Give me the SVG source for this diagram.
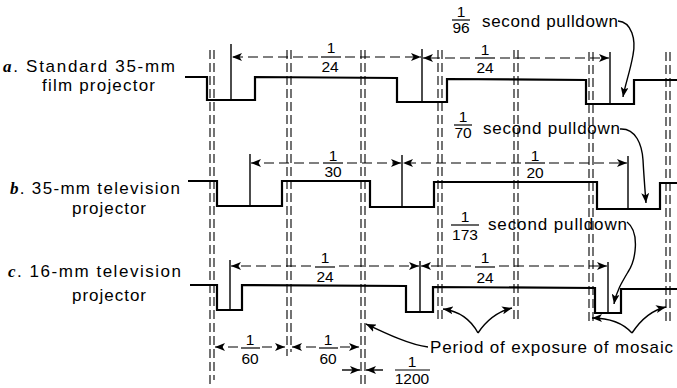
<svg xmlns="http://www.w3.org/2000/svg" width="677" height="388" viewBox="0 0 677 388">
<defs>
<style>
.bg{fill:#fff}
.wave{fill:none;stroke:#000;stroke-width:2.2;stroke-linejoin:miter}
.tick{stroke:#000;stroke-width:1.4}
.guide{stroke:#000;stroke-width:1.1;stroke-dasharray:9 4}
.dim{fill:none;stroke:#000;stroke-width:1.2;stroke-dasharray:10 5}
.solid{fill:none;stroke:#000;stroke-width:1.4}
.bar{stroke:#000;stroke-width:1.2}
.lbl{font-family:"Liberation Sans","DejaVu Sans",sans-serif;font-size:17px;fill:#000}
.num{font-family:"Liberation Sans","DejaVu Sans",sans-serif;font-size:15.5px;fill:#000;text-anchor:middle}
.it{font-family:"Liberation Serif",serif;font-style:italic;font-weight:bold}
</style>
<marker id="ah" viewBox="0 0 10 8" refX="10" refY="4" markerWidth="10" markerHeight="8" markerUnits="userSpaceOnUse" orient="auto">
<path d="M0,0 L10,4 L0,8 L2.5,4 z" fill="#000"/>
</marker>
</defs>
<rect class="bg" x="0" y="0" width="677" height="388"/>

<g id="guides">
<line class="guide" x1="210" y1="50" x2="210" y2="385"/>
<line class="guide" x1="214" y1="50" x2="214" y2="380"/>
<line class="guide" x1="287" y1="50" x2="287" y2="356"/>
<line class="guide" x1="291" y1="50" x2="291" y2="352"/>
<line class="guide" x1="361" y1="50" x2="361" y2="385"/>
<line class="guide" x1="365" y1="50" x2="365" y2="388"/>
<line class="guide" x1="438" y1="50" x2="438" y2="322"/>
<line class="guide" x1="442" y1="50" x2="442" y2="322"/>
<line class="guide" x1="514" y1="50" x2="514" y2="322"/>
<line class="guide" x1="518" y1="50" x2="518" y2="322"/>
<line class="guide" x1="589" y1="52" x2="589" y2="322"/>
<line class="guide" x1="593" y1="52" x2="593" y2="322"/>
<line class="guide" x1="666" y1="52" x2="666" y2="322"/>
<line class="guide" x1="670" y1="52" x2="670" y2="322"/>
</g>

<g id="row-a">
<text class="lbl" x="3" y="72" textLength="172" lengthAdjust="spacing"><tspan class="it">a</tspan>. Standard 35-mm</text>
<text class="lbl" x="42" y="91" textLength="113" lengthAdjust="spacing">film projector</text>
<path class="wave" d="M185,77 L207,77 L207,100 L255,100 L255,77 L397,78 L397,102 L447,102 L447,79 L586,80 L586,104 L634,104 L634,80 L677,80"/>
<line class="tick" x1="231" y1="44" x2="231" y2="100"/>
<line class="tick" x1="422" y1="49" x2="422" y2="102"/>
<line class="tick" x1="610" y1="52" x2="610" y2="104"/>
<text class="num" x="331" y="53">1</text>
<line class="bar" x1="321" y1="57" x2="341" y2="57"/>
<text class="num" x="330" y="72">24</text>
<text class="num" x="485" y="55">1</text>
<line class="bar" x1="475" y1="58" x2="495" y2="58"/>
<text class="num" x="485" y="73">24</text>
</g>

<g id="row-b">
<text class="lbl" x="10" y="194" textLength="170" lengthAdjust="spacing"><tspan class="it">b</tspan>. 35-mm television</text>
<text class="lbl" x="72" y="214" textLength="74" lengthAdjust="spacing">projector</text>
<path class="wave" d="M188,181 L217,181 L217,206 L282,206 L282,181 L370,181 L370,207 L434,207 L434,182 L597,182 L597,209 L660,209 L660,183 L677,183"/>
<line class="tick" x1="250" y1="154" x2="250" y2="206"/>
<line class="tick" x1="402" y1="155" x2="402" y2="207"/>
<line class="tick" x1="628" y1="156" x2="628" y2="209"/>
<text class="num" x="333" y="161">1</text>
<line class="bar" x1="323" y1="163" x2="343" y2="163"/>
<text class="num" x="333" y="177">30</text>
<text class="num" x="535" y="161">1</text>
<line class="bar" x1="525" y1="163" x2="545" y2="163"/>
<text class="num" x="535" y="178">20</text>
</g>

<g id="row-c">
<text class="lbl" x="8" y="277" textLength="173" lengthAdjust="spacing"><tspan class="it" font-weight="normal">c</tspan>. 16-mm television</text>
<text class="lbl" x="72" y="301" textLength="74" lengthAdjust="spacing">projector</text>
<path class="wave" d="M190,285 L217,285 L217,310 L242,310 L242,285 L406,286 L406,312 L433,312 L433,287 L595,288 L595,313 L621,313 L621,289 L677,289"/>
<line class="tick" x1="230" y1="260" x2="230" y2="310"/>
<line class="tick" x1="420" y1="261" x2="420" y2="312"/>
<line class="tick" x1="608" y1="262" x2="608" y2="313"/>
<text class="num" x="325" y="263">1</text>
<line class="bar" x1="315" y1="267" x2="335" y2="267"/>
<text class="num" x="325" y="282">24</text>
<text class="num" x="485" y="263">1</text>
<line class="bar" x1="475" y1="267" x2="495" y2="267"/>
<text class="num" x="485" y="283">24</text>
</g>

<g id="connectors">
<line class="dim" x1="318" y1="57" x2="232" y2="57" marker-end="url(#ah)"/>
<line class="dim" x1="345" y1="57" x2="421" y2="57" marker-end="url(#ah)"/>
<line class="dim" x1="470" y1="58" x2="423" y2="58" marker-end="url(#ah)"/>
<line class="dim" x1="500" y1="58" x2="609" y2="58" marker-end="url(#ah)"/>
<line class="dim" x1="319" y1="163" x2="251" y2="163" marker-end="url(#ah)"/>
<line class="dim" x1="347" y1="163" x2="401" y2="163" marker-end="url(#ah)"/>
<line class="dim" x1="521" y1="163" x2="403" y2="163" marker-end="url(#ah)"/>
<line class="dim" x1="549" y1="163" x2="627" y2="163" marker-end="url(#ah)"/>
<line class="dim" x1="311" y1="266" x2="231" y2="266" marker-end="url(#ah)"/>
<line class="dim" x1="339" y1="266" x2="419" y2="266" marker-end="url(#ah)"/>
<line class="dim" x1="471" y1="266" x2="421" y2="266" marker-end="url(#ah)"/>
<line class="dim" x1="499" y1="266" x2="607" y2="266" marker-end="url(#ah)"/>
<line class="dim" x1="238" y1="347" x2="215" y2="347" marker-end="url(#ah)"/>
<line class="dim" x1="262" y1="347" x2="285" y2="347" marker-end="url(#ah)"/>
<line class="dim" x1="316" y1="347" x2="292" y2="347" marker-end="url(#ah)"/>
<line class="dim" x1="340" y1="347" x2="359" y2="347" marker-end="url(#ah)"/>
<line class="solid" x1="342" y1="370" x2="360" y2="370" marker-end="url(#ah)"/>
<line class="solid" x1="383" y1="370" x2="366" y2="370" marker-end="url(#ah)"/>
<path class="solid" d="M618,21 C632,22 636,40 633,55 C630,72 625,85 623,97" marker-end="url(#ah)"/>
<path class="solid" d="M620,129 C636,128 642,145 643,160 C644,178 645,190 646,203" marker-end="url(#ah)"/>
<path class="solid" d="M627,222 C640,232 636,260 628,272 C622,282 616,292 614,304" marker-end="url(#ah)"/>
<path class="solid" d="M428,347 C410,345 385,333 366,324" marker-end="url(#ah)"/>
<path class="solid" d="M478,333 C470,318 458,311 443,309" marker-end="url(#ah)"/>
<path class="solid" d="M478,333 C488,318 500,311 512,308" marker-end="url(#ah)"/>
<path class="solid" d="M632,333 C622,322 608,318 592,318" marker-end="url(#ah)"/>
<path class="solid" d="M632,333 C642,318 652,310 666,307" marker-end="url(#ah)"/>
</g>

<g id="annotations">
<text class="num" x="461" y="17">1</text>
<line class="bar" x1="452" y1="20" x2="470" y2="20"/>
<text class="num" x="461" y="33">96</text>
<text class="lbl" x="482" y="27" textLength="136" lengthAdjust="spacing">second pulldown</text>
<text class="num" x="463" y="122">1</text>
<line class="bar" x1="454" y1="125" x2="472" y2="125"/>
<text class="num" x="463" y="138">70</text>
<text class="lbl" x="483" y="134" textLength="137" lengthAdjust="spacing">second pulldown</text>
<text class="num" x="465" y="222">1</text>
<line class="bar" x1="451" y1="225" x2="479" y2="225"/>
<text class="num" x="465" y="240">173</text>
<text class="lbl" x="488" y="230" textLength="139" lengthAdjust="spacing">second pulldown</text>
<text class="num" x="250" y="345">1</text>
<line class="bar" x1="241" y1="348" x2="260" y2="348"/>
<text class="num" x="250" y="364">60</text>
<text class="num" x="328" y="345">1</text>
<line class="bar" x1="319" y1="348" x2="338" y2="348"/>
<text class="num" x="328" y="364">60</text>
<text class="num" x="412" y="367">1</text>
<line class="bar" x1="395" y1="370" x2="430" y2="370"/>
<text class="num" x="412" y="384">1200</text>
<text class="lbl" x="430" y="353" textLength="243" lengthAdjust="spacing">Period of exposure of mosaic</text>
</g>
</svg>
